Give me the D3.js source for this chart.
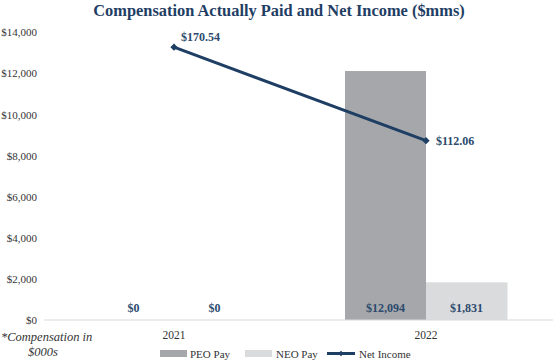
<!DOCTYPE html>
<html>
<head>
<meta charset="utf-8">
<script src="https://cdn.jsdelivr.net/npm/d3@7/dist/d3.min.js"></script>
</head>
<body style="margin:0;padding:0;background:#fff;">
<svg id="chart" width="553" height="361" font-family="Liberation Serif" style="display:block"></svg>
<script>
const categories = ["2021", "2022"];
const peoPay = [0, 12094];
const neoPay = [0, 1831];
const netIncome = [170.54, 112.06];
const yTicks = [0, 2000, 4000, 6000, 8000, 10000, 12000, 14000];
const seriesNames = ["PEO Pay", "NEO Pay", "Net Income"];

const FF = "Liberation Serif";
const svg = d3.select("#chart");
const navy = "#1F3E64";
const labelBlue = "#2C4A6E";
const peoColor = "#A6A7AA";
const neoColor = "#DADBDD";
const txt = (g) => g.append("text").attr("font-family", FF);

const x = d3.scaleBand().domain(categories).range([48, 552]);
const y = d3.scaleLinear().domain([0, 14000]).range([320, 31.8]);
const y2 = d3.scaleLinear().domain([0, 180]).range([320, 32]);
const barW = 81;

// title
txt(svg).attr("x", 279).attr("y", 15.5).attr("text-anchor", "middle")
  .attr("font-size", 16.4).attr("font-weight", "bold").attr("fill", navy)
  .text("Compensation Actually Paid and Net Income ($mms)");

// y axis (labels only)
const yAxis = d3.axisLeft(y).tickValues(yTicks).tickSize(0).tickPadding(0)
  .tickFormat(d => "$" + d3.format(",")(d));
const ga = svg.append("g").attr("transform", "translate(37,0)").call(yAxis);
ga.attr("font-family", FF);
ga.select(".domain").remove();
ga.selectAll("text").attr("font-size", 11).attr("fill", "#333")
  .attr("font-family", FF).attr("dy", "0.35em");

// bars
const cx = c => x(c) + x.bandwidth() / 2;
svg.append("g").selectAll("rect").data(categories).join("rect")
  .attr("x", c => cx(c) - barW).attr("width", barW)
  .attr("y", (c, i) => y(peoPay[i])).attr("height", (c, i) => y(0) - y(peoPay[i]))
  .attr("fill", peoColor);
svg.append("g").selectAll("rect").data(categories).join("rect")
  .attr("x", c => cx(c)).attr("width", barW + 0.5)
  .attr("y", (c, i) => y(neoPay[i])).attr("height", (c, i) => y(0) - y(neoPay[i]))
  .attr("fill", neoColor);

// baseline
svg.append("line").attr("x1", 44).attr("x2", 553).attr("y1", y(0)).attr("y2", y(0))
  .attr("stroke", "#D9D9D9").attr("stroke-width", 1);

// bar labels
const fmt = d => "$" + d3.format(",")(d);
svg.append("g").selectAll("text").data(categories).join("text")
  .attr("font-family", FF)
  .attr("x", c => cx(c) - barW / 2).attr("y", 311.5).attr("text-anchor", "middle")
  .attr("font-size", 12).attr("font-weight", "bold").attr("fill", labelBlue)
  .text((c, i) => fmt(peoPay[i]));
svg.append("g").selectAll("text").data(categories).join("text")
  .attr("font-family", FF)
  .attr("x", c => cx(c) + barW / 2).attr("y", 311.5).attr("text-anchor", "middle")
  .attr("font-size", 12).attr("font-weight", "bold").attr("fill", labelBlue)
  .text((c, i) => fmt(neoPay[i]));

// x axis labels
const xAxis = d3.axisBottom(x).tickSize(0).tickPadding(0);
const gx = svg.append("g").attr("transform", "translate(0,331)").call(xAxis);
gx.attr("font-family", FF);
gx.select(".domain").remove();
gx.selectAll("text").attr("font-size", 11.5).attr("fill", "#333").attr("font-family", FF);

// line
const line = d3.line().x((d, i) => cx(categories[i])).y(d => y2(d));
svg.append("path").datum(netIncome).attr("d", line).attr("fill", "none")
  .attr("stroke", navy).attr("stroke-width", 3);
const diamond = d3.symbol().type(d3.symbolDiamond2).size(34);
svg.append("g").selectAll("path").data(netIncome).join("path")
  .attr("d", diamond).attr("fill", navy)
  .attr("transform", (d, i) => `translate(${cx(categories[i])},${y2(d)})`);
// line labels
txt(svg).attr("x", cx(categories[0]) + 7).attr("y", y2(netIncome[0]) - 6.5)
  .attr("font-size", 12).attr("font-weight", "bold").attr("fill", labelBlue)
  .text("$" + netIncome[0].toFixed(2));
txt(svg).attr("x", cx(categories[1]) + 10).attr("y", y2(netIncome[1]) + 4.5)
  .attr("font-size", 12).attr("font-weight", "bold").attr("fill", labelBlue)
  .text("$" + netIncome[1].toFixed(2));

// footnote
txt(svg).attr("x", 1).attr("y", 340.5).attr("font-size", 12.5)
  .attr("font-style", "italic").attr("fill", "#333").text("*Compensation in");
txt(svg).attr("x", 28).attr("y", 356).attr("font-size", 12.5)
  .attr("font-style", "italic").attr("fill", "#333").text("$000s");

// legend
const lg = svg.append("g");
const legY = 353.5;
lg.append("rect").attr("x", 160).attr("y", legY - 3.5).attr("width", 27).attr("height", 7).attr("fill", peoColor);
txt(lg).attr("x", 190).attr("y", legY + 4).attr("font-size", 11).attr("fill", "#333").text(seriesNames[0]);
lg.append("rect").attr("x", 245).attr("y", legY - 3.5).attr("width", 27).attr("height", 7).attr("fill", neoColor);
txt(lg).attr("x", 276).attr("y", legY + 4).attr("font-size", 11).attr("fill", "#333").text(seriesNames[1]);
lg.append("line").attr("x1", 327).attr("x2", 355).attr("y1", legY).attr("y2", legY)
  .attr("stroke", navy).attr("stroke-width", 3);
lg.append("path").attr("d", d3.symbol().type(d3.symbolDiamond2).size(20)).attr("fill", navy)
  .attr("transform", `translate(341,${legY})`);
txt(lg).attr("x", 359).attr("y", legY + 4).attr("font-size", 11).attr("fill", "#333").text(seriesNames[2]);
</script>
</body>
</html>
